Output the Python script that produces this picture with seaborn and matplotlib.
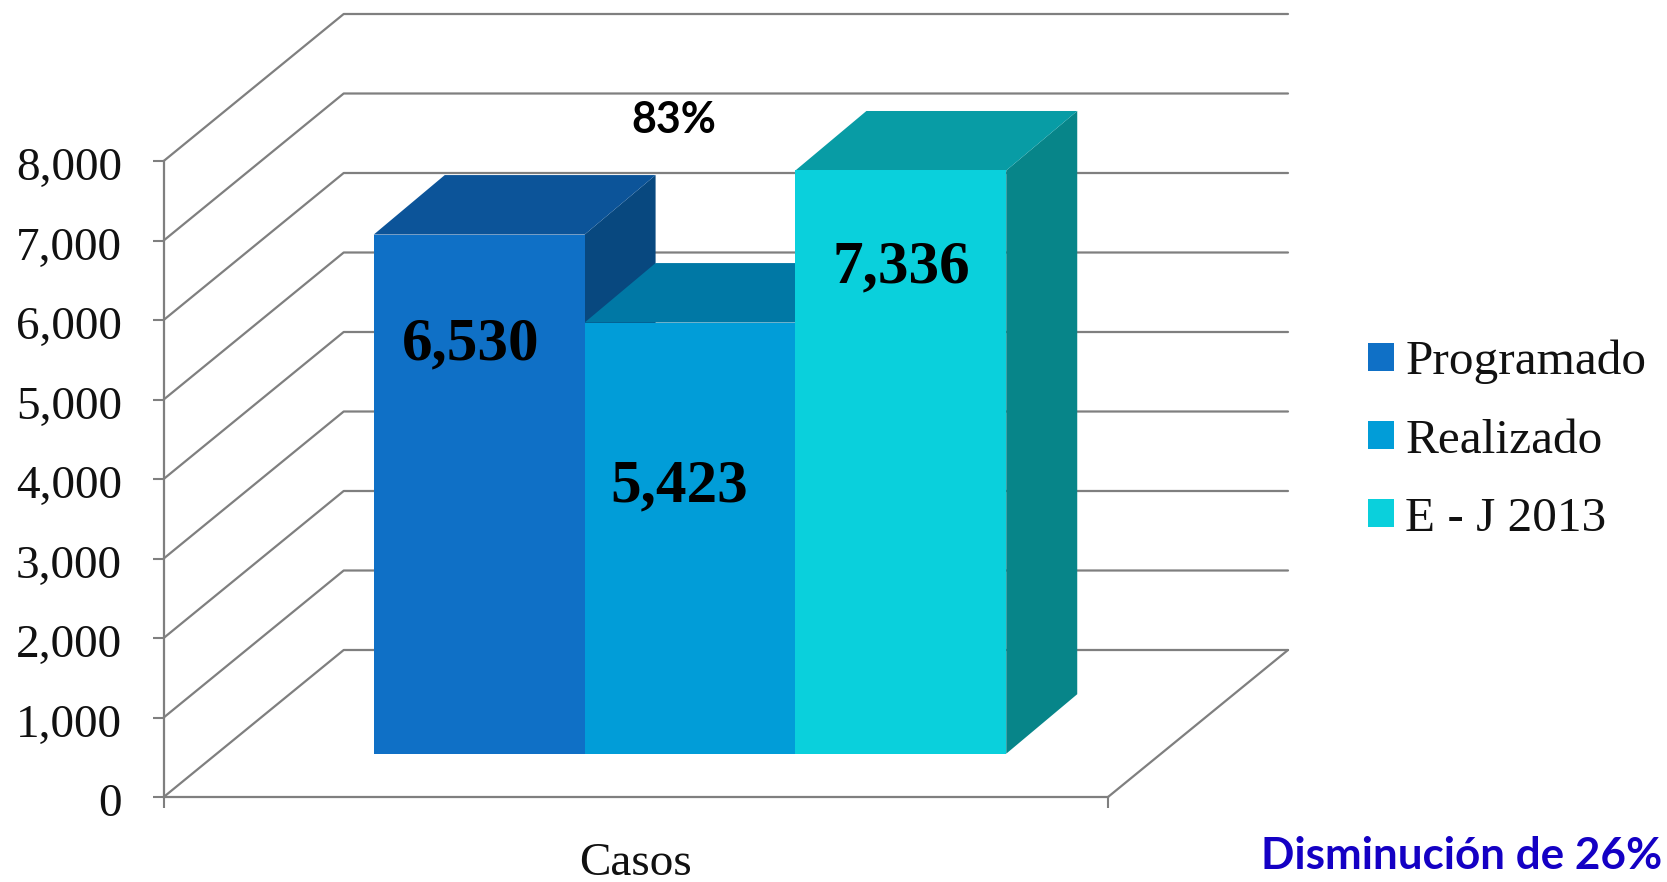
import pandas as pd
import matplotlib.pyplot as plt
import seaborn as sns
from matplotlib.lines import Line2D
from matplotlib.patches import Polygon
from matplotlib.transforms import Affine2D

categoria = ['Casos']
series = ['Programado', 'Realizado', 'E - J 2013']
valores = [6530, 5423, 7336]
y_ticks = [0, 1000, 2000, 3000, 4000, 5000, 6000, 7000, 8000]

col_front = ['#0F70C6', '#019DD8', '#0AD0DC']
col_top = ['#0C5499', '#0078A5', '#089CA5']
col_side = ['#08487F', '#00607F', '#078589']
col_line = '#7F7F7F'

W, H = 1667, 882
# profundidad del efecto 3D, en pixeles
DX, DY = 180, 147
BAR_DX, BAR_DY = 71, 59.5

sns.set_theme(style='white')
plt.rcParams['font.family'] = ['Liberation Serif', 'DejaVu Serif']

df = pd.DataFrame({
    'categoria': categoria * len(series),
    'serie': series,
    'casos': valores,
})


def px_axes(fig, left, right, bottom, top):
    # ejes colocados en pixeles de la imagen (y desde arriba)
    return fig.add_axes([left / W, 1 - bottom / H, (right - left) / W, (bottom - top) / H])


fig = plt.figure(figsize=(W / 100, H / 100), dpi=100)
ax = px_axes(fig, 163.7, 1108, 797, 161)
ax_bars = px_axes(fig, 218, 1162, 753.7, 117.7)
ax.set_zorder(0)
ax_bars.set_zorder(1)
ax_bars.patch.set_alpha(0)

# ejes frontales
ax.set_xlim(-0.5, 0.5)
ax.set_ylim(0, 8000)
ax.set_yticks(y_ticks)
ax.set_yticklabels([f'{v:,}' for v in y_ticks], fontsize=34, color='#111111')
ax.set_xticks([-0.5, 0.5])
ax.set_xticklabels(['', ''])
ax.tick_params(axis='y', length=8, width=1.5, color=col_line, pad=22, left=True)
ax.tick_params(axis='x', length=8, width=1.5, color=col_line, bottom=True)
for lab in ax.get_yticklabels():
    lab.set_transform(lab.get_transform() + Affine2D().translate(0, -3))
sns.despine(ax=ax, top=True, right=True)
for s in ['left', 'bottom']:
    ax.spines[s].set_color(col_line)
    ax.spines[s].set_linewidth(1.6)
ax.patch.set_alpha(0)
ax.grid(False)
ax.text(0, -0.105, categoria[0], transform=ax.get_xaxis_transform(), ha='center', va='center',
        fontsize=34, color='#111111', clip_on=False)

# paredes: lineas de la pared izquierda y del fondo
x0, x1 = ax.get_xlim()
for v in y_ticks:
    px, py = ax.transData.transform((x0, v))
    qx, _ = ax.transData.transform((x1, v))
    fig.add_artist(Line2D([px, px + DX, qx + DX], [py, py + DY, py + DY], transform=None,
                          color=col_line, lw=1.6, zorder=0.5))
px, py = ax.transData.transform((x1, 0))
fig.add_artist(Line2D([px, px + DX], [py, py + DY], transform=None, color=col_line, lw=1.6, zorder=0.5))

# barras
sns.barplot(data=df, x='categoria', y='casos', hue='serie', hue_order=series, palette=col_front,
            width=0.67, gap=0, saturation=1, linewidth=0, ax=ax_bars)
ax_bars.set_xlim(-0.5, 0.5)
ax_bars.set_ylim(0, 8000)
ax_bars.set_xlabel('')
ax_bars.set_ylabel('')
ax_bars.set_xticks([])
ax_bars.set_yticks([])
ax_bars.grid(False)
sns.despine(ax=ax_bars, left=True, bottom=True)

bars = [p for c in ax_bars.containers for p in c]
for i, bar in enumerate(bars):
    bar.set_zorder(5)
    (ax0, ay0) = ax_bars.transData.transform((bar.get_x(), 0))
    (ax1, ay1) = ax_bars.transData.transform((bar.get_x() + bar.get_width(), bar.get_height()))
    side = Polygon([(ax1, ay0), (ax1 + BAR_DX, ay0 + BAR_DY), (ax1 + BAR_DX, ay1 + BAR_DY), (ax1, ay1)],
                   transform=None, fc=col_side[i], ec='none', zorder=2 + i * 0.1)
    top = Polygon([(ax0, ay1), (ax0 + BAR_DX, ay1 + BAR_DY), (ax1 + BAR_DX, ay1 + BAR_DY), (ax1, ay1)],
                  transform=None, fc=col_top[i], ec='none', zorder=2.05 + i * 0.1)
    ax_bars.add_artist(side)
    ax_bars.add_artist(top)
    # add_artist recorta al area de los ejes y la tapa sobresale
    side.set_clip_on(False)
    top.set_clip_on(False)

# etiquetas de valor (desplazadas a mano respecto a la parte alta de cada barra)
label_offsets = [(-8, -110), (-11, -164), (0, -97)]
for bar, v, off in zip(bars, valores, label_offsets):
    ax_bars.annotate(f'{v:,}', (bar.get_x() + bar.get_width() / 2, v), xytext=off,
                     textcoords='offset pixels', ha='center', va='center',
                     fontsize=44, fontweight='bold', color='black', zorder=6)

# leyenda
handles, labels = ax_bars.get_legend_handles_labels()
ax_bars.legend(handles, labels, loc='upper left', bbox_to_anchor=(1368 / W, 1 - 340 / H),
               bbox_transform=fig.transFigure, frameon=False, fontsize=35.5, handlelength=0.52,
               handleheight=0.52, handletextpad=0.24, labelspacing=0.69, borderpad=0, borderaxespad=0,
               labelcolor='#111111')

fig.text(674 / W, 1 - 120 / H, '83%', family='Lato', fontweight='bold', fontsize=31,
         ha='center', va='center', color='black')
fig.text(1662 / W, 1 - 856 / H, 'Disminución de 26%', family='Lato', fontweight='bold', fontsize=31.7,
         ha='right', va='center', color='#1400C4')

fig.savefig('out.png', dpi=100, facecolor='white')
